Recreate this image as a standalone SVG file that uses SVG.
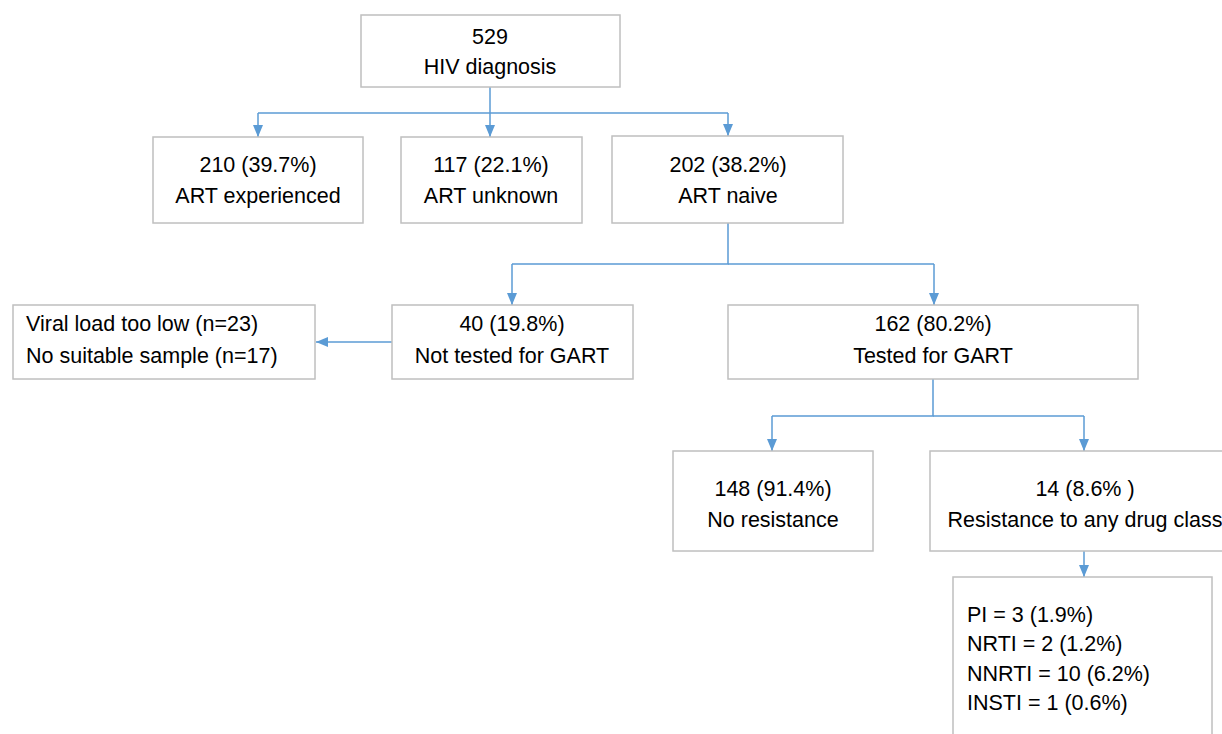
<svg xmlns="http://www.w3.org/2000/svg" width="1222" height="734" viewBox="0 0 1222 734">
<style>
.box{fill:#fff;stroke:#bfbfbf;stroke-width:1.5}
.t{font-family:"Liberation Sans",Arial,sans-serif;font-size:21.5px;fill:#000;text-anchor:middle}
.tl{font-family:"Liberation Sans",Arial,sans-serif;font-size:21.5px;fill:#000;text-anchor:start}
.c{fill:none;stroke:#5b9bd5;stroke-width:1.5}
</style>
<defs>
<marker id="ah" markerWidth="12" markerHeight="10" refX="12" refY="5" orient="auto" markerUnits="userSpaceOnUse">
<path d="M0,0 L12,5 L0,10 Z" fill="#5b9bd5"/>
</marker>
</defs>
<rect width="1222" height="734" fill="#fff"/>
<g id="connectors">
<path class="c" d="M490,87 V113"/>
<path class="c" d="M258,113 H728"/>
<path class="c" d="M258,113 V137" marker-end="url(#ah)"/>
<path class="c" d="M490,113 V137" marker-end="url(#ah)"/>
<path class="c" d="M728,113 V136" marker-end="url(#ah)"/>
<path class="c" d="M728,223 V264 H512"/>
<path class="c" d="M728,264 H934"/>
<path class="c" d="M512,264 V305" marker-end="url(#ah)"/>
<path class="c" d="M934,264 V305" marker-end="url(#ah)"/>
<path class="c" d="M392,342 H316" marker-end="url(#ah)"/>
<path class="c" d="M933,379 V416 H772"/>
<path class="c" d="M933,416 H1084"/>
<path class="c" d="M772,416 V451" marker-end="url(#ah)"/>
<path class="c" d="M1084,416 V451" marker-end="url(#ah)"/>
<path class="c" d="M1084,551 V577" marker-end="url(#ah)"/>
</g>
<g id="n-hiv">
<rect class="box" x="361" y="15" width="259" height="72"/>
<text class="t" x="490" y="44">529</text>
<text class="t" x="490" y="74">HIV diagnosis</text>
</g>
<g id="n-exp">
<rect class="box" x="153" y="137" width="210" height="86"/>
<text class="t" x="258" y="172">210 (39.7%)</text>
<text class="t" x="258" y="203">ART experienced</text>
</g>
<g id="n-unk">
<rect class="box" x="401" y="137" width="181" height="86"/>
<text class="t" x="491" y="172">117 (22.1%)</text>
<text class="t" x="491" y="203">ART unknown</text>
</g>
<g id="n-naive">
<rect class="box" x="612" y="136" width="231" height="87"/>
<text class="t" x="728" y="172">202 (38.2%)</text>
<text class="t" x="728" y="203">ART naive</text>
</g>
<g id="n-reasons">
<rect class="box" x="13" y="305" width="302" height="74"/>
<text class="tl" x="26" y="331">Viral load too low (n=23)</text>
<text class="tl" x="26" y="363">No suitable sample (n=17)</text>
</g>
<g id="n-nottested">
<rect class="box" x="392" y="305" width="241" height="74"/>
<text class="t" x="512" y="331">40 (19.8%)</text>
<text class="t" x="512" y="363">Not tested for GART</text>
</g>
<g id="n-tested">
<rect class="box" x="728" y="305" width="410" height="74"/>
<text class="t" x="933" y="331">162 (80.2%)</text>
<text class="t" x="933" y="363">Tested for GART</text>
</g>
<g id="n-nores">
<rect class="box" x="673" y="451" width="200" height="100"/>
<text class="t" x="773" y="496">148 (91.4%)</text>
<text class="t" x="773" y="527">No resistance</text>
</g>
<g id="n-res">
<rect class="box" x="930" y="451" width="320" height="100"/>
<text class="t" x="1085" y="496">14 (8.6% )</text>
<text class="t" x="1085" y="527">Resistance to any drug class</text>
</g>
<g id="n-classes">
<rect class="box" x="953" y="577" width="259" height="200"/>
<text class="tl" x="967" y="622">PI = 3 (1.9%)</text>
<text class="tl" x="967" y="651">NRTI = 2 (1.2%)</text>
<text class="tl" x="967" y="681">NNRTI = 10 (6.2%)</text>
<text class="tl" x="967" y="710">INSTI = 1 (0.6%)</text>
</g>
</svg>
